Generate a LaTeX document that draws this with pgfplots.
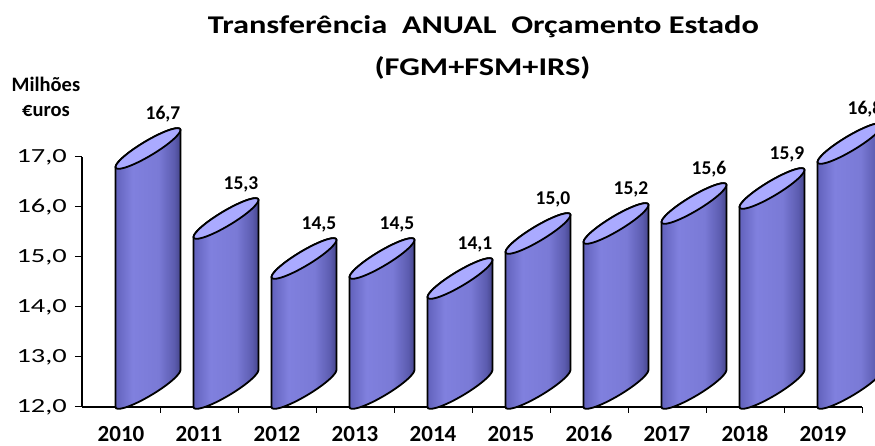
\documentclass[border=0pt]{standalone}
\usepackage{pgfplots}
\pgfplotsset{compat=1.18}
\usepackage{pgfplotstable}
\usepackage{fontspec}
\setmainfont{Carlito}
\newfontfamily\titlefont{Carlito}[FakeStretch=1.27]
\newfontfamily\tickfont{Carlito}[FakeStretch=1.42]
\definecolor{cylA}{RGB}{98,98,188}
\definecolor{cylB}{RGB}{128,128,222}
\definecolor{cylBB}{RGB}{122,122,214}
\definecolor{cylC}{RGB}{92,92,176}
\definecolor{cylD}{RGB}{70,70,140}
\definecolor{cyltop}{RGB}{170,170,255}
\pgfdeclarehorizontalshading{cylbody}{100bp}{color(0bp)=(cylA); color(25bp)=(cylA); color(38bp)=(cylB); color(58bp)=(cylBB); color(70bp)=(cylC); color(75bp)=(cylD); color(100bp)=(cylD)}
\pgfdeclareplotmark{emptymark}{}
\pgfplotstableread{
x v
0 16.7
1 15.3
2 14.5
3 14.5
4 14.1
5 15.0
6 15.2
7 15.6
8 15.9
9 16.8
}\datatable
\begin{document}
\begin{tikzpicture}
\begin{axis}[
  scale only axis, width=780pt, height=250pt,
  xmin=-0.5, xmax=9.5, ymin=12, ymax=17,
  axis lines*=left,
  axis line style={line width=1.2pt, black},
  clip=false,
  ytick={12,13,...,17},
  xtick={0,...,9},
  xticklabels={2010,2011,2012,2013,2014,2015,2016,2017,2018,2019},
  minor xtick={0.5,1.5,...,9.5},
  tick align=outside,
  major tick length=7pt,
  minor tick length=6pt,
  tick style={black, line width=1pt},
  major x tick style={draw=none},
  yticklabel={\pgfmathprintnumber[fixed,fixed zerofill,precision=1,use comma,assume math mode=true]{\tick}},
  yticklabel style={font=\tickfont\fontsize{20}{24}\selectfont, anchor=east, inner sep=0pt, xshift=-8pt},
  xticklabel style={font=\bfseries\fontsize{23}{27}\selectfont, anchor=base, inner sep=0pt, yshift=-27.5pt},
]
\addplot[scatter, only marks, mark=emptymark, point meta=explicit,
  visualization depends on={\thisrow{v} \as \rawv},
  scatter/@pre marker code/.code={%
    \pgfmathsetmacro\hh{(\rawv-12)*50}%
    \pgfscope
    \pgfsetlinewidth{1.8pt}%
    \pgfsetroundjoin
    \pgfsetstrokecolor{black}%
    \pgfpathmoveto{\pgfpoint{-5.5pt}{5pt}}%
    \pgfpathlineto{\pgfpoint{-5.5pt}{-\hh pt}}%
    \pgfpatharcaxes{180}{360}{\pgfpoint{32.5pt}{18.5pt}}{\pgfpoint{0pt}{8.5pt}}%
    \pgfpathlineto{\pgfpoint{59.5pt}{42pt}}%
    \pgfpatharcaxes{0}{180}{\pgfpoint{32.5pt}{18.5pt}}{\pgfpoint{0pt}{8.5pt}}%
    \pgfpathclose
    \pgfshadepath{cylbody}{0}%
    \pgfusepath{stroke}%
    \pgfpathellipse{\pgfpoint{27pt}{23.5pt}}{\pgfpoint{32.5pt}{18.5pt}}{\pgfpoint{0pt}{8.5pt}}%
    \pgfsetfillcolor{cyltop}%
    \pgfusepath{fill,stroke}%
    \endpgfscope
  },
  scatter/@post marker code/.code={},
] table[x=x, y=v, meta=v] {\datatable};
\addplot[only marks, mark=emptymark, point meta=explicit,
  nodes near coords={\pgfmathprintnumber[fixed,fixed zerofill,precision=1,use comma,assume math mode=true]{\pgfplotspointmeta}},
  every node near coord/.append style={font=\bfseries\fontsize{19.5}{23}\selectfont, anchor=base, inner sep=0pt, xshift=42pt, yshift=52pt, text=black},
] table[x=x, y=v, meta=v] {\datatable};
\node[font=\titlefont\bfseries\fontsize{25.5}{30}\selectfont, anchor=base, inner sep=0pt] at (axis description cs:0.5147,1.492) {Transferência\ \ ANUAL\ \ Orçamento Estado};
\node[font=\titlefont\bfseries\fontsize{25.5}{30}\selectfont, anchor=base, inner sep=0pt] at (axis description cs:0.5135,1.324) {(FGM+FSM+IRS)};
\node[font=\bfseries\fontsize{20.5}{25}\selectfont, anchor=base, inner sep=0pt] at (axis description cs:-0.0462,1.26) {Milhões};
\node[font=\bfseries\fontsize{20.5}{25}\selectfont, anchor=base, inner sep=0pt] at (axis description cs:-0.0462,1.16) {€uros};
\end{axis}
\pgfresetboundingbox
\path[use as bounding box] ([shift={(-82pt,-39pt)}]current axis.south west) rectangle ([shift={(793pt,407pt)}]current axis.south west);
\end{tikzpicture}
\end{document}
